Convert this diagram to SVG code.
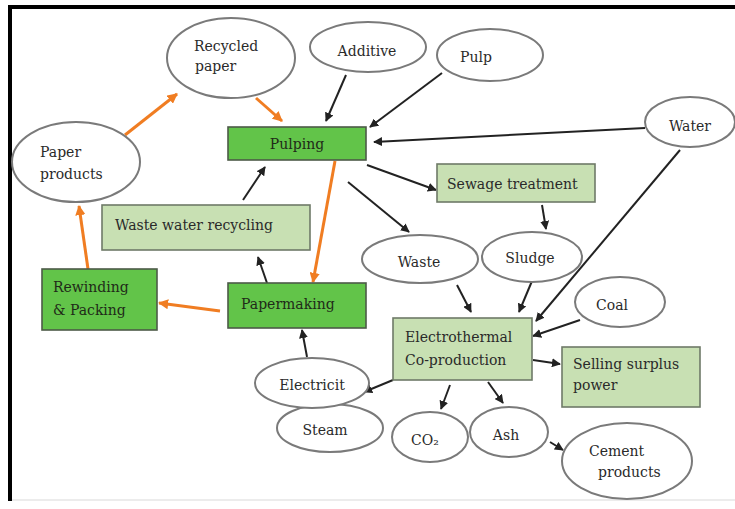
<svg xmlns="http://www.w3.org/2000/svg" width="735" height="509" viewBox="0 0 735 509">
<defs>
<marker id="ab" viewBox="0 0 10 10" refX="9" refY="5" markerWidth="4.5" markerHeight="4.5" orient="auto" markerUnits="strokeWidth"><path d="M0,0 L10,5 L0,10 z" fill="#222"/></marker>
<marker id="ao" viewBox="0 0 10 10" refX="9" refY="5" markerWidth="3.4" markerHeight="3.4" orient="auto" markerUnits="strokeWidth"><path d="M0,0 L10,5 L0,10 z" fill="#f07d22"/></marker>
</defs>
<style>
.el{fill:#fff;stroke:#7a7a7a;stroke-width:2}
.bd{fill:#62c449;stroke:#4d5a48;stroke-width:1.6}
.bl{fill:#c8e0b3;stroke:#6f7a68;stroke-width:1.6}
text{font-family:"DejaVu Serif","Liberation Serif",serif;font-size:14px;fill:#2a2a2a}
.g text{fill:#1f2a18}
.c{text-anchor:middle}
.k{stroke:#222;stroke-width:2;fill:none;marker-end:url(#ab)}
.o{stroke:#f07d22;stroke-width:3;fill:none;marker-end:url(#ao)}
</style>
<rect width="735" height="509" fill="#fff"/>
<rect x="8" y="5" width="727" height="4" fill="#000"/>
<rect x="8" y="5" width="4" height="496" fill="#000"/>
<line x1="12" y1="500" x2="735" y2="500" stroke="#e6e6e6" stroke-width="1.5"/>

<g id="connectors">
<line class="o" x1="125" y1="135" x2="177" y2="94"/>
<line class="o" x1="256" y1="98" x2="282" y2="121"/>
<line class="o" x1="335" y1="161" x2="313" y2="282"/>
<line class="o" x1="220" y1="311" x2="159" y2="303"/>
<line class="o" x1="88" y1="269" x2="79" y2="206"/>
<line class="k" x1="346" y1="75" x2="326" y2="121"/>
<line class="k" x1="442" y1="73" x2="370" y2="127"/>
<line class="k" x1="645" y1="128" x2="374" y2="142"/>
<line class="k" x1="367" y1="165" x2="436" y2="190"/>
<line class="k" x1="348" y1="182" x2="409" y2="232"/>
<line class="k" x1="542" y1="205" x2="546" y2="229"/>
<line class="k" x1="680" y1="150" x2="536" y2="321"/>
<line class="k" x1="457" y1="285" x2="471" y2="312"/>
<line class="k" x1="532" y1="281" x2="519" y2="312"/>
<line class="k" x1="580" y1="320" x2="533" y2="336"/>
<line class="k" x1="533" y1="360" x2="560" y2="364"/>
<line class="k" x1="393" y1="380" x2="364" y2="392"/>
<line class="k" x1="450" y1="385" x2="441" y2="409"/>
<line class="k" x1="488" y1="382" x2="503" y2="403"/>
<line class="k" x1="550" y1="442" x2="563" y2="450"/>
<line class="k" x1="307" y1="357" x2="302" y2="330"/>
<line class="k" x1="267" y1="283" x2="258" y2="257"/>
<line class="k" x1="243" y1="200" x2="265" y2="167"/>
</g>

<g id="recycled-paper"><ellipse class="el" cx="231" cy="58" rx="64" ry="40"/><text x="194" y="51">Recycled</text><text x="195" y="71">paper</text></g>
<g id="additive"><ellipse class="el" cx="368" cy="47" rx="58" ry="25"/><text class="c" x="367" y="56">Additive</text></g>
<g id="pulp"><ellipse class="el" cx="490" cy="55" rx="53" ry="26"/><text x="460" y="62">Pulp</text></g>
<g id="water"><ellipse class="el" cx="690" cy="122" rx="45" ry="25"/><text class="c" x="690" y="131">Water</text></g>
<g id="paper-products"><ellipse class="el" cx="76" cy="162" rx="64" ry="40"/><text x="40" y="157">Paper</text><text x="40" y="179">products</text></g>
<g id="pulping" class="g"><rect class="bd" x="228" y="127" width="138" height="33"/><text class="c" x="297" y="149">Pulping</text></g>
<g id="sewage-treatment"><rect class="bl" x="437" y="164" width="158" height="38"/><text x="447" y="189">Sewage treatment</text></g>
<g id="waste-water-recycling"><rect class="bl" x="102" y="205" width="208" height="45"/><text x="115" y="230">Waste water recycling</text></g>
<g id="waste"><ellipse class="el" cx="420" cy="259" rx="58" ry="24"/><text class="c" x="419" y="267">Waste</text></g>
<g id="sludge"><ellipse class="el" cx="532" cy="257" rx="50" ry="25"/><text class="c" x="530" y="263">Sludge</text></g>
<g id="rewinding-packing" class="g"><rect class="bd" x="42" y="269" width="115" height="61"/><text x="53" y="292">Rewinding</text><text x="53" y="315">&amp; Packing</text></g>
<g id="papermaking" class="g"><rect class="bd" x="228" y="283" width="138" height="45"/><text x="241" y="309">Papermaking</text></g>
<g id="coal"><ellipse class="el" cx="620" cy="302" rx="45" ry="25"/><text class="c" x="612" y="310">Coal</text></g>
<g id="electrothermal"><rect class="bl" x="393" y="318" width="139" height="62"/><text x="405" y="342">Electrothermal</text><text x="405" y="365">Co-production</text></g>
<g id="selling-surplus-power"><rect class="bl" x="562" y="347" width="138" height="60"/><text x="573" y="369">Selling surplus</text><text x="573" y="390">power</text></g>
<g id="steam"><ellipse class="el" cx="330" cy="428" rx="53" ry="24"/><text class="c" x="325" y="435">Steam</text></g>
<g id="electricit"><ellipse class="el" cx="312" cy="383" rx="57" ry="25"/><text class="c" x="312" y="390">Electricit</text></g>
<g id="co2"><ellipse class="el" cx="430" cy="437" rx="38" ry="25"/><text class="c" x="425" y="445">CO₂</text></g>
<g id="ash"><ellipse class="el" cx="509" cy="432" rx="39" ry="25"/><text class="c" x="506" y="440">Ash</text></g>
<g id="cement-products"><ellipse class="el" cx="627" cy="461" rx="65" ry="38"/><text x="589" y="456">Cement</text><text x="598" y="477">products</text></g>
</svg>
